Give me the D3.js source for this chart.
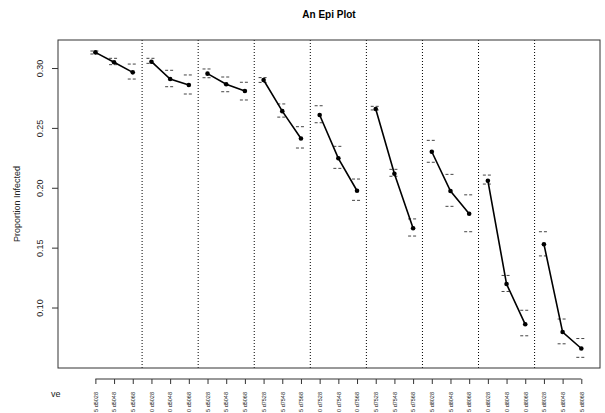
<!DOCTYPE html>
<html>
<head>
<meta charset="utf-8">
<script src="https://cdn.jsdelivr.net/npm/d3@7"></script>
<style>
  body { margin: 0; background: #fff; }
  svg { font-family: "Liberation Sans", Arial, sans-serif; }
</style>
</head>
<body>
<main></main>
<script>
// 9 scenarios, 3 time points each
let groupPrefix = ['5', '0', '5', '5', '0', '5', '5', '0', '5'];
let groupDose = ['d50', 'd50', 'd50', 'd75', 'd75', 'd75', 'd80', 'd80', 'd80'];
let timeSuffix = ['28', '48', '68'];

let estimate = [
  0.3131, 0.3048, 0.2964,
  0.3053, 0.2908, 0.2858,
  0.2953, 0.2864, 0.2808,
  0.2900, 0.2640, 0.2411,
  0.2608, 0.2246, 0.1975,
  0.2658, 0.2117, 0.1662,
  0.2301, 0.1973, 0.1783,
  0.2059, 0.1196, 0.0860,
  0.1529, 0.0795, 0.0658
];
let lower = [
  0.3117, 0.3028, 0.2908,
  0.3039, 0.2844, 0.2783,
  0.2919, 0.2802, 0.2733,
  0.2880, 0.2590, 0.2332,
  0.2543, 0.2162, 0.1895,
  0.2650, 0.2096, 0.1597,
  0.2213, 0.1845, 0.1633,
  0.2031, 0.1134, 0.0764,
  0.1431, 0.0697, 0.0584
];
let upper = [
  0.3142, 0.3081, 0.3033,
  0.3081, 0.2981, 0.2942,
  0.2992, 0.2925, 0.2881,
  0.2920, 0.2700, 0.2510,
  0.2685, 0.2346, 0.2073,
  0.2680, 0.2154, 0.1740,
  0.2396, 0.2112, 0.1941,
  0.2106, 0.1268, 0.0977,
  0.1633, 0.0904, 0.0741
];
let yTicks = [0.10, 0.15, 0.20, 0.25, 0.30];

let width = 605;
let height = 413;
let plot = { left: 58, right: 600, top: 40, bottom: 368 };

let rows = estimate.map((d, i) => ({
  pos: i + 1,
  group: Math.floor(i / 3),
  est: d,
  lo: lower[i],
  hi: upper[i],
  label: groupPrefix[Math.floor(i / 3)] + ' ' + groupDose[Math.floor(i / 3)] + timeSuffix[i % 3]
}));

let svg = d3.select('main')
  .append('svg')
  .attr('width', width)
  .attr('height', height);

let x = d3.scaleLinear()
  .domain([-1, 28])
  .range([plot.left, plot.right]);

let y = d3.scaleLinear()
  .domain([0.0495, 0.3234])
  .range([plot.bottom, plot.top]);

// title
svg.append('text')
  .attr('x', (plot.left + plot.right) / 2)
  .attr('y', 18)
  .attr('text-anchor', 'middle')
  .attr('font-size', 10)
  .attr('font-weight', 'bold')
  .text('An Epi Plot');

// separators between groups
let seps = d3.range(1, 9).map(g => g * 3 + 0.5);
svg.append('g').selectAll('line')
  .data(seps)
  .enter().append('line')
  .attr('x1', d => x(d)).attr('x2', d => x(d))
  .attr('y1', plot.top).attr('y2', plot.bottom)
  .attr('stroke', '#000')
  .attr('stroke-width', 1)
  .attr('stroke-dasharray', '1,2');

// confidence limits as short dashed bars
let ci = svg.append('g');
['lo', 'hi'].forEach(k => {
  ci.selectAll('line.' + k)
    .data(rows)
    .enter().append('line')
    .attr('class', k)
    .attr('x1', d => x(d.pos) - 5).attr('x2', d => x(d.pos) + 5)
    .attr('y1', d => y(d[k])).attr('y2', d => y(d[k]))
    .attr('stroke', '#444')
    .attr('stroke-width', 1)
    .attr('stroke-dasharray', '3,2');
});

// lines per group
let line = d3.line().x(d => x(d.pos)).y(d => y(d.est));
let groups = d3.groups(rows, d => d.group);
svg.append('g').selectAll('path')
  .data(groups)
  .enter().append('path')
  .attr('d', d => line(d[1]))
  .attr('fill', 'none')
  .attr('stroke', '#000')
  .attr('stroke-width', 1.6);

svg.append('g').selectAll('circle')
  .data(rows)
  .enter().append('circle')
  .attr('cx', d => x(d.pos))
  .attr('cy', d => y(d.est))
  .attr('r', 2.3)
  .attr('fill', '#000');

// box
svg.append('rect')
  .attr('x', plot.left).attr('y', plot.top)
  .attr('width', plot.right - plot.left)
  .attr('height', plot.bottom - plot.top)
  .attr('fill', 'none')
  .attr('stroke', '#333')
  .attr('stroke-width', 1);

// y axis
let yAxis = svg.append('g')
  .attr('transform', `translate(${plot.left},0)`)
  .call(d3.axisLeft(y).tickValues(yTicks).tickFormat(d3.format('.2f')).tickSize(6).tickPadding(4));
yAxis.select('.domain').remove();
yAxis.selectAll('line').attr('stroke', '#333');
yAxis.selectAll('text')
  .attr('font-size', 9)
  .attr('font-family', '"Liberation Sans", Arial, sans-serif')
  .attr('fill', '#222')
  .attr('x', null).attr('dy', null)
  .attr('text-anchor', 'middle')
  .attr('transform', 'translate(-15,0) rotate(-90)')
  .attr('y', 0);

svg.append('text')
  .attr('transform', `translate(20,${(plot.top + plot.bottom) / 2}) rotate(-90)`)
  .attr('text-anchor', 'middle')
  .attr('font-size', 9)
  .attr('fill', '#222')
  .text('Proportion Infected');

// x axis below the box
let xAxisY = 379;
let xAxis = svg.append('g')
  .attr('transform', `translate(0,${xAxisY})`)
  .call(d3.axisBottom(x).tickValues(rows.map(d => d.pos))
    .tickFormat((d, i) => rows[i].label).tickSize(5).tickSizeOuter(0));
xAxis.select('.domain')
  .attr('d', `M${x(1)},0H${x(27)}`)
  .attr('stroke', '#333');
xAxis.selectAll('line').attr('stroke', '#333');
xAxis.selectAll('text')
  .attr('font-size', 5.5)
  .attr('font-family', '"Liberation Sans", Arial, sans-serif')
  .attr('fill', '#222')
  .attr('text-anchor', 'end')
  .attr('transform', 'rotate(-90)')
  .attr('x', -13)
  .attr('y', 0)
  .attr('dy', '0.32em');

svg.append('text')
  .attr('x', 51)
  .attr('y', 397)
  .attr('font-size', 9)
  .attr('fill', '#222')
  .text('ve');
</script>
</body>
</html>
